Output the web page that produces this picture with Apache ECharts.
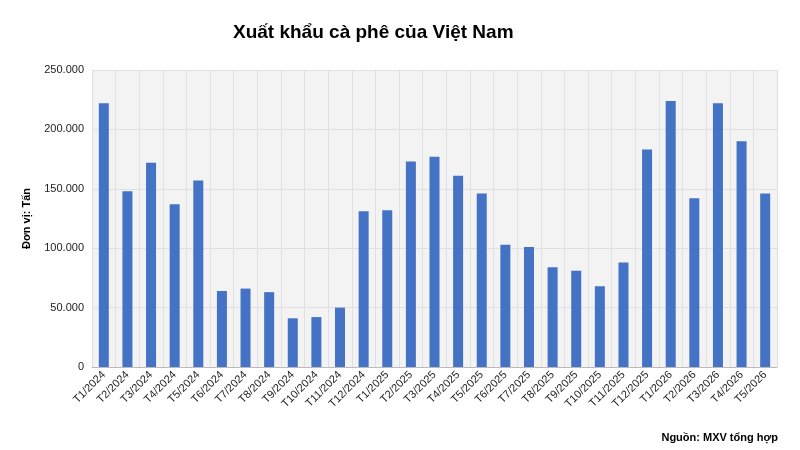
<!DOCTYPE html>
<html><head><meta charset="utf-8">
<script src="https://cdn.jsdelivr.net/npm/echarts@6/dist/echarts.min.js"></script>
<style>html,body{margin:0;padding:0;background:#fff}#c{width:800px;height:450px}</style>
</head><body><div id="c"></div>
<script>
const categories = ["T1/2024","T2/2024","T3/2024","T4/2024","T5/2024","T6/2024","T7/2024","T8/2024","T9/2024","T10/2024","T11/2024","T12/2024","T1/2025","T2/2025","T3/2025","T4/2025","T5/2025","T6/2025","T7/2025","T8/2025","T9/2025","T10/2025","T11/2025","T12/2025","T1/2026","T2/2026","T3/2026","T4/2026","T5/2026"];
const exportsTons = [222000,148000,172000,137000,157000,64000,66000,63000,41000,42000,50000,131000,132000,173000,177000,161000,146000,103000,101000,84000,81000,68000,88000,183000,224000,142000,222000,190000,146000];
const fmt = v => String(v).replace(/\B(?=(\d{3})+(?!\d))/g, '.');
const chart = echarts.init(document.getElementById('c'));
chart.setOption({
  animation:false,
  backgroundColor:'#fff',
  title:{text:'Xuất khẩu cà phê của Việt Nam',left:228,top:18,textStyle:{fontFamily:'Liberation Sans',fontSize:19,fontWeight:'bold',color:'#000'}},
  graphic:[{type:'text',right:22,top:432,style:{text:'Nguồn: MXV tổng hợp',font:'bold 11px "Liberation Sans"',fill:'#000'}}],
  grid:{left:92,right:23,top:70,bottom:83,show:true,backgroundColor:'#f3f3f3',borderWidth:0},
  xAxis:{type:'category',data:categories,
    axisLine:{lineStyle:{color:'#bbb'}},axisTick:{show:false},
    splitLine:{show:true,lineStyle:{color:'#e0e0e0'}},
    axisLabel:{rotate:45,interval:0,fontFamily:'Liberation Sans',fontSize:11,color:'#222',margin:6}},
  yAxis:{type:'value',min:0,max:250000,interval:50000,
    name:'Đơn vị: Tấn',nameLocation:'middle',nameGap:60,nameTextStyle:{fontFamily:'Liberation Sans',fontSize:11,fontWeight:'bold',color:'#000'},
    axisLabel:{formatter:fmt,fontFamily:'Liberation Sans',fontSize:11,color:'#222'},
    splitLine:{lineStyle:{color:'#e0e0e0'}}},
  series:[{type:'bar',data:exportsTons,barWidth:10,itemStyle:{color:'#4472c4'}}]
});
</script></body></html>
